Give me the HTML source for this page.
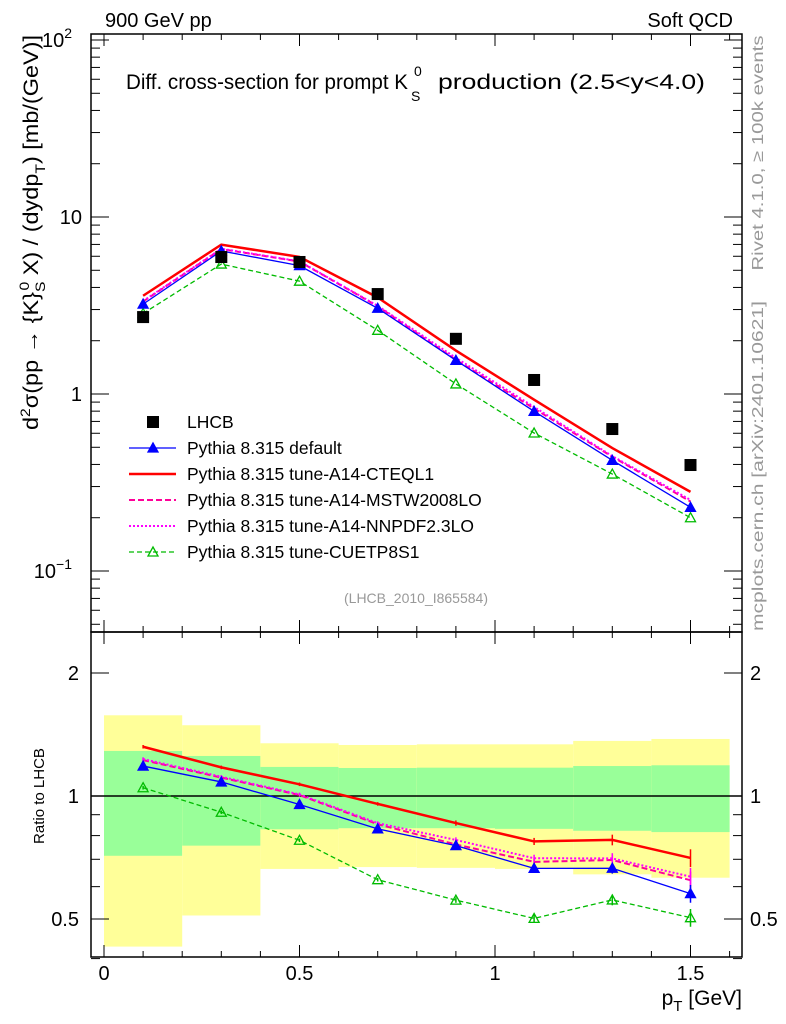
<!DOCTYPE html>
<html><head><meta charset="utf-8"><style>
body{margin:0;background:#fff;}
svg{display:block;font-family:"Liberation Sans",sans-serif;}
</style></head><body>
<svg id="chart" width="786" height="1024" viewBox="0 0 786 1024">
<text x="105" y="27" font-size="20">900 GeV pp</text>
<text x="733" y="27" font-size="20" text-anchor="end">Soft QCD</text>
<g id="ratioBands"></g>
<g id="main"></g>
<g id="ratio"></g>
<rect x="91" y="34" width="651" height="598" fill="none" stroke="#000" stroke-width="1.5"/>
<rect x="91" y="632" width="651" height="325" fill="none" stroke="#000" stroke-width="1.5"/>
<g id="axes"></g>
<g font-size="21">
<text x="126" y="89" textLength="282" lengthAdjust="spacingAndGlyphs">Diff. cross-section for prompt K</text>
<text x="411" y="101" font-size="14">S</text>
<text x="414" y="76" font-size="14">0</text>
<text x="438" y="89" textLength="267" lengthAdjust="spacingAndGlyphs">production (2.5&lt;y&lt;4.0)</text>
</g>
<text transform="translate(38,430) rotate(-90)" font-size="21" textLength="395" lengthAdjust="spacingAndGlyphs">d<tspan font-size="14" dy="-8">2</tspan><tspan dy="8">σ(pp → {K}</tspan><tspan font-size="14" dy="7">S</tspan><tspan font-size="14" dx="-8" dy="-16">0</tspan><tspan dy="9"> X) / (dydp</tspan><tspan font-size="14" dy="7">T</tspan><tspan dy="-7">) [mb/(GeV)]</tspan></text>
<text transform="translate(763,153) rotate(-90)" font-size="16" fill="#999" text-anchor="middle" textLength="235" lengthAdjust="spacingAndGlyphs">Rivet 4.1.0, ≥ 100k events</text>
<text transform="translate(763,466) rotate(-90)" font-size="16" fill="#999" text-anchor="middle" textLength="330" lengthAdjust="spacingAndGlyphs">mcplots.cern.ch [arXiv:2401.10621]</text>
<text x="416" y="603" font-size="14" fill="#999" text-anchor="middle">(LHCB_2010_I865584)</text>
<text transform="translate(44,796) rotate(-90)" font-size="15" text-anchor="middle">Ratio to LHCB</text>
<text x="742" y="1005" font-size="21" text-anchor="end">p<tspan font-size="15" dy="6">T</tspan><tspan dy="-6"> [GeV]</tspan></text>
<g id="legend"></g>
</svg>
<script>
const xs = [0.1,0.3,0.5,0.7,0.9,1.1,1.3,1.5];
const binEdges = [0,0.2,0.4,0.6,0.8,1.0,1.2,1.4,1.6];
const lhcb = [2.72,5.94,5.57,3.67,2.05,1.2,0.634,0.397];
const cteql1 = [3.59,6.98,5.95,3.51,1.76,0.929,0.495,0.280];
const def = [3.22,6.43,5.31,3.05,1.55,0.798,0.422,0.229];
const mstw = [3.33,6.59,5.60,3.13,1.56,0.828,0.442,0.247];
const nnpdf = [3.35,6.62,5.62,3.15,1.60,0.845,0.446,0.252];
const cuetp = [2.85,5.42,4.34,2.29,1.14,0.602,0.353,0.200];
const yellowUp = [1.576,1.49,1.346,1.333,1.338,1.338,1.364,1.379];
const yellowDn = [0.428,0.51,0.663,0.67,0.667,0.663,0.643,0.631];
const greenUp = [1.289,1.253,1.178,1.171,1.173,1.173,1.184,1.189];
const greenDn = [0.714,0.756,0.829,0.834,0.834,0.831,0.822,0.816];
const modelErr = [0.01,0.01,0.01,0.01,0.015,0.02,0.03,0.05];
const xTicks = [0,0.5,1,1.5];
const xTickLabels = ["0","0.5","1","1.5"];

const NS="http://www.w3.org/2000/svg";
const X = v => 104 + v*391;
const Y = v => 394 - 177*Math.log10(v);
const R = v => 796 - 408.6*Math.log10(v);
function mk(tag, attrs, parent){const e=document.createElementNS(NS,tag);for(const k in attrs)e.setAttribute(k,attrs[k]);parent.appendChild(e);return e;}
const main=document.getElementById('main'), ratio=document.getElementById('ratio'), bands=document.getElementById('ratioBands'), axes=document.getElementById('axes'), legend=document.getElementById('legend');

for(let i=0;i<xs.length;i++){
  let r=mk('rect',{x:X(binEdges[i]),y:R(yellowUp[i]),width:X(binEdges[i+1])-X(binEdges[i]),height:R(yellowDn[i])-R(yellowUp[i]),fill:'#ffff99'},bands);
  
  
  let g=mk('rect',{x:X(binEdges[i]),y:R(greenUp[i]),width:X(binEdges[i+1])-X(binEdges[i]),height:R(greenDn[i])-R(greenUp[i]),fill:'#99ff99'},bands);
  
  
}
let ul=mk('line',{x1:91,x2:742,y1:R(1),y2:R(1),stroke:'#000','stroke-width':1.5},bands);



const series=[
 {name:'cteql1',vals:cteql1,color:'#ff0000',w:2.5,dash:'',marker:'none',label:'Pythia 8.315 tune-A14-CTEQL1'},
 {name:'mstw',vals:mstw,color:'#ff0099',w:2,dash:'6,3',marker:'none',label:'Pythia 8.315 tune-A14-MSTW2008LO'},
 {name:'nnpdf',vals:nnpdf,color:'#ff00ff',w:2,dash:'2,2',marker:'none',label:'Pythia 8.315 tune-A14-NNPDF2.3LO'},
 {name:'cuetp8s1',vals:cuetp,color:'#00bb00',w:1.3,dash:'5,3',marker:'open',label:'Pythia 8.315 tune-CUETP8S1'},
 {name:'default',vals:def,color:'#0000ff',w:1.3,dash:'',marker:'filled',label:'Pythia 8.315 default'}
];
function tri(x,y,c,filled,parent){
  return mk('path',{d:`M${x},${y-5}L${x+5},${y+4}L${x-5},${y+4}Z`,fill:filled?c:'none',stroke:c,'stroke-width':1.3},parent);
}
for(const s of series){
  const pm=xs.map((x,i)=>X(x)+','+Y(s.vals[i])).join(' ');
  let l=mk('polyline',{points:pm,fill:'none',stroke:s.color,'stroke-width':s.w,'stroke-dasharray':s.dash},main);
  
  
  const pr=xs.map((x,i)=>X(x)+','+R(s.vals[i]/lhcb[i])).join(' ');
  let lr=mk('polyline',{points:pr,fill:'none',stroke:s.color,'stroke-width':s.w,'stroke-dasharray':s.dash},ratio);
  
  
  xs.forEach((x,i)=>{
    const rv=s.vals[i]/lhcb[i];
    let e=mk('line',{x1:X(x),x2:X(x),y1:R(rv*(1+modelErr[i])),y2:R(rv*(1-modelErr[i])),stroke:s.color,'stroke-width':1.5},ratio);
    
    
    if(s.marker!=='none'){
      let m=tri(X(x),Y(s.vals[i]),s.color,s.marker==='filled',main);
      
      
      let m2=tri(X(x),R(rv),s.color,s.marker==='filled',ratio);
      
      
    }
  });
}
xs.forEach((x,i)=>{
  let d=mk('rect',{x:X(x)-6,y:Y(lhcb[i])-6,width:12,height:12,fill:'#000'},main);
  
  
});

function line(x1,y1,x2,y2,w,p){return mk('line',{x1,y1,x2,y2,stroke:'#000','stroke-width':w||1},p||axes);}
function txt(x,y,s,anchor,size){const t=mk('text',{x,y,'font-size':size||20,'text-anchor':anchor||'middle'},axes);t.textContent=s;return t;}
for(let v=0;v<=1.6001;v+=0.1){
  const major=Math.abs(v*2-Math.round(v*2))<1e-6;
  const L=major?12:6;
  for(const [top,bot] of [[34,632],[632,957]]){line(X(v),top,X(v),top+L);line(X(v),bot,X(v),bot-L);}
}
xTicks.forEach((v,i)=>{const t=txt(X(v),980,xTickLabels[i],'middle',20);});
for(let e=-2;e<=2;e++){for(let k=1;k<10;k++){const v=k*Math.pow(10,e);const y=Y(v);if(y<34||y>632)continue;const L=k===1?18:9;line(91,y,91+L,y);line(742,y,742-L,y);}}
const yl=[[100,'10','2'],[10,'10',''],[1,'1',''],[0.1,'10','−1']];
yl.forEach(([v,b,s])=>{const t=txt(s?72:82,Y(v)+7,b,'end',20);if(s){const ts=mk('tspan',{'font-size':14,dy:-9},t);ts.textContent=s;}});
for(const v of [0.4,0.5,0.6,0.7,0.8,0.9,1,2]){const y=R(v);const L=(v===1||v===2||v===0.5)?18:9;line(91,y,91+L,y);line(742,y,742-L,y);}
for(const [v,s] of [[2,'2'],[1,'1'],[0.5,'0.5']]){txt(79,R(v)+7,s,'end',20);txt(750,R(v)+7,s,'start',20);}

const leg=[{label:'LHCB',type:'data'},series[4],series[0],series[1],series[2],series[3]];
leg.forEach((s,i)=>{
  const y=422+i*26;
  const g=mk('g',{},legend);
  
  
  if(s.type==='data'){mk('rect',{x:147,y:y-6,width:12,height:12,fill:'#000'},g);}
  else{mk('line',{x1:129,x2:176,y1:y,y2:y,stroke:s.color,'stroke-width':s.w,'stroke-dasharray':s.dash},g);if(s.marker!=='none')tri(153,y,s.color,s.marker==='filled',g);}
  const t=mk('text',{x:187,y:y+6,'font-size':17.5},g);t.textContent=s.label||'LHCB';
});
</script>
</body></html>
